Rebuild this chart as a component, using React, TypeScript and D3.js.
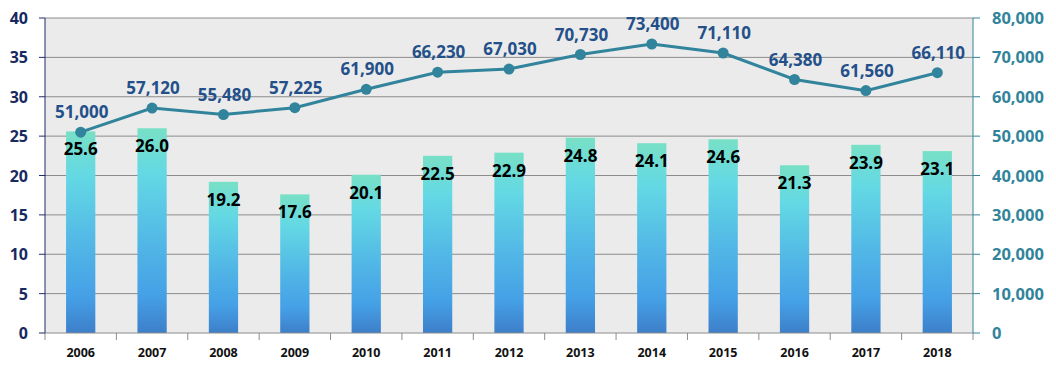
import React, { useEffect } from "react";
import * as d3 from "d3";

const years = ["2006", "2007", "2008", "2009", "2010", "2011", "2012", "2013", "2014", "2015", "2016", "2017", "2018"];
const barValues = [25.6, 26.0, 19.2, 17.6, 20.1, 22.5, 22.9, 24.8, 24.1, 24.6, 21.3, 23.9, 23.1];
const lineValues = [51000, 57120, 55480, 57225, 61900, 66230, 67030, 70730, 73400, 71110, 64380, 61560, 66110];
const leftTicks = [0, 5, 10, 15, 20, 25, 30, 35, 40];
const rightTicks = [0, 10000, 20000, 30000, 40000, 50000, 60000, 70000, 80000];

const W = 1056;
const H = 369;
const margin = { left: 45, right: 83, top: 18, bottom: 36 };

export default function App() {
  useEffect(() => {
    document.body.style.margin = "0";
  }, []);

  const x = d3.scaleBand().domain(years).range([margin.left, W - margin.right]).paddingInner(0).paddingOuter(0);
  const yL = d3.scaleLinear().domain([0, 40]).range([H - margin.bottom, margin.top]);
  const yR = d3.scaleLinear().domain([0, 80000]).range([H - margin.bottom, margin.top]);
  const bw = x.bandwidth() * 0.41;
  const fmt = d3.format(",");
  const cx = (y: string) => (x(y) as number) + x.bandwidth() / 2;

  const line = d3.line<number>()
    .x((d, i) => cx(years[i]))
    .y((d) => yR(d));

  const x0 = margin.left;
  const x1 = W - margin.right;
  const y0 = H - margin.bottom;
  const font = "'Open Sans', 'DejaVu Sans', sans-serif";

  return (
    <svg width={W} height={H} style={{ display: "block" }} fontFamily={font}>
      <defs>
        <linearGradient id="barGrad" x1="0" y1="0" x2="0" y2="1">
          <stop offset="0" stopColor="#78E0C6" />
          <stop offset="0.22" stopColor="#64D9E4" />
          <stop offset="0.55" stopColor="#52B8E6" />
          <stop offset="0.82" stopColor="#45A0E6" />
          <stop offset="1" stopColor="#3D7FC9" />
        </linearGradient>
      </defs>
      <rect x={x0} y={margin.top} width={x1 - x0} height={y0 - margin.top} fill="#EBEBEB" />
      {leftTicks.slice(1).map((t) => (
        <line key={t} x1={x0} x2={x1} y1={yL(t)} y2={yL(t)} stroke="#8C8C8C" strokeWidth={1} />
      ))}
      {years.map((yr, i) => (
        <rect key={yr} x={cx(yr) - bw / 2} y={yL(barValues[i])} width={bw} height={y0 - yL(barValues[i])} fill="url(#barGrad)" />
      ))}
      {/* x axis */}
      <line x1={x0} x2={x1} y1={y0} y2={y0} stroke="#8C8C8C" />
      {years.map((yr) => (
        <line key={yr} x1={x(yr) as number} x2={x(yr) as number} y1={y0} y2={y0 + 7} stroke="#8C8C8C" />
      ))}
      <line x1={x1} x2={x1} y1={y0} y2={y0 + 7} stroke="#8C8C8C" />
      {years.map((yr) => (
        <text key={yr} x={cx(yr)} y={357} textAnchor="middle" fontSize={12.5} fontWeight="bold" fill="#111">{yr}</text>
      ))}
      {/* left axis */}
      <line x1={x0} x2={x0} y1={margin.top} y2={y0} stroke="#1F2D6B" />
      {leftTicks.map((t) => (
        <g key={t}>
          <line x1={x0 - 6} x2={x0} y1={yL(t)} y2={yL(t)} stroke="#1F2D6B" />
          <text x={28} y={yL(t) + 6} textAnchor="end" fontSize={16} fontWeight="bold" fill="#17295F">{t}</text>
        </g>
      ))}
      {/* right axis */}
      <line x1={x1} x2={x1} y1={margin.top} y2={y0} stroke="#31849B" />
      {rightTicks.map((t) => (
        <g key={t}>
          <line x1={x1} x2={x1 + 7} y1={yR(t)} y2={yR(t)} stroke="#31849B" />
          <text x={992} y={yR(t) + 6} textAnchor="start" fontSize={16.5} fontWeight="bold" fill="#31849B">{fmt(t)}</text>
        </g>
      ))}
      {/* bar labels */}
      {years.map((yr, i) => (
        <text key={yr} x={cx(yr)} y={yL(barValues[i]) + 24} textAnchor="middle" fontSize={17} fontWeight="bold" fill="#000">{barValues[i].toFixed(1)}</text>
      ))}
      {/* line */}
      <path d={line(lineValues) as string} fill="none" stroke="#31849B" strokeWidth={3} />
      {lineValues.map((v, i) => (
        <circle key={i} cx={cx(years[i])} cy={yR(v)} r={5.5} fill="#31849B" />
      ))}
      {lineValues.map((v, i) => (
        <text key={i} x={cx(years[i]) + 1} y={yR(v) - 14} textAnchor="middle" fontSize={17} fontWeight="bold" fill="#24508A">{fmt(v)}</text>
      ))}
    </svg>
  );
}
